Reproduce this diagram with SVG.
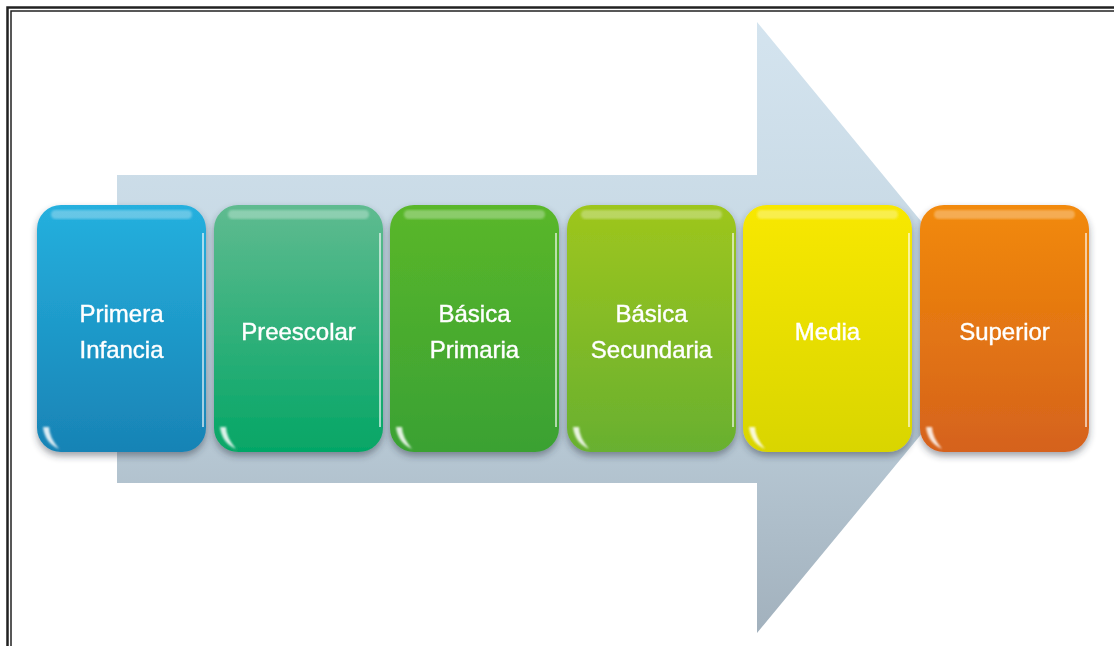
<svg xmlns="http://www.w3.org/2000/svg" width="1114" height="646" viewBox="0 0 1114 646">
<defs>
<style>
.lbl{font-family:"Liberation Sans",Arial,sans-serif;font-size:24px;fill:#ffffff;stroke:#ffffff;stroke-width:0.4;text-anchor:middle}
.hl{fill:#ffffff;opacity:0.3}
.edge{fill:none;stroke:#ffffff;stroke-opacity:0.6;stroke-width:2}
.glare{fill:#ffffff;opacity:0.85}
</style>
<linearGradient id="arrowG" x1="0" y1="0" x2="0" y2="1">
<stop offset="0" stop-color="#d4e4ef"/>
<stop offset="0.5" stop-color="#c3d5e1"/>
<stop offset="1" stop-color="#a2b1bd"/>
</linearGradient>
<linearGradient id="g1" x1="0" y1="0" x2="0" y2="1"><stop offset="0" stop-color="#25b0de"/><stop offset="1" stop-color="#1883b5"/></linearGradient>
<linearGradient id="g2" x1="0" y1="0" x2="0" y2="1"><stop offset="0" stop-color="#5fbb90"/><stop offset="1" stop-color="#05a666"/></linearGradient>
<linearGradient id="g3" x1="0" y1="0" x2="0" y2="1"><stop offset="0" stop-color="#5ab72a"/><stop offset="1" stop-color="#3aa133"/></linearGradient>
<linearGradient id="g4" x1="0" y1="0" x2="0" y2="1"><stop offset="0" stop-color="#9ec61d"/><stop offset="1" stop-color="#68b030"/></linearGradient>
<linearGradient id="g5" x1="0" y1="0" x2="0" y2="1"><stop offset="0" stop-color="#f8e800"/><stop offset="1" stop-color="#d9d500"/></linearGradient>
<linearGradient id="g6" x1="0" y1="0" x2="0" y2="1"><stop offset="0" stop-color="#f28a08"/><stop offset="1" stop-color="#d5621d"/></linearGradient>
<filter id="sh" x="-10%" y="-10%" width="120%" height="125%">
<feDropShadow dx="0" dy="4" stdDeviation="3.5" flood-color="#2a3540" flood-opacity="0.45"/>
</filter>
<filter id="blur"><feGaussianBlur stdDeviation="1.2"/></filter>
<symbol id="gloss" viewBox="0 0 169 247" overflow="visible">
<rect x="14" y="5" width="141" height="9" rx="4.5" class="hl" filter="url(#blur)"/>
<path d="M166,28 L166,222" class="edge"/>
<path d="M6,222 Q8,238 22,244 Q12,232 12,222 Z" class="glare" filter="url(#blur)"/>
</symbol>
</defs>
<rect width="1114" height="646" fill="#ffffff"/>
<g id="frame" fill="none" stroke="#222222">
<path d="M7.5,646 L7.5,7.5 L1114,7.5" stroke-width="2.5"/>
<path d="M11,646 L11,11 L1114,11" stroke-width="1.5"/>
</g>
<g id="connectors">
<polygon id="arrow" points="117,175 757,175 757,22 1009,328 757,633 757,483 117,483" fill="url(#arrowG)"/>
<path d="M117,178 L757,178" stroke="#ffffff" stroke-opacity="0.7" stroke-width="3" filter="url(#blur)"/>
</g>
<g id="n1" filter="url(#sh)">
<rect x="37" y="205" width="169" height="247" rx="24" fill="url(#g1)"/>
<use href="#gloss" x="37" y="205" width="169" height="247"/>
<text class="lbl" x="121.5" y="322">Primera</text>
<text class="lbl" x="121.5" y="358">Infancia</text>
</g>
<g id="n2" filter="url(#sh)">
<rect x="214" y="205" width="169" height="247" rx="24" fill="url(#g2)"/>
<use href="#gloss" x="214" y="205" width="169" height="247"/>
<text class="lbl" x="298.5" y="340">Preescolar</text>
</g>
<g id="n3" filter="url(#sh)">
<rect x="390" y="205" width="169" height="247" rx="24" fill="url(#g3)"/>
<use href="#gloss" x="390" y="205" width="169" height="247"/>
<text class="lbl" x="474.5" y="322">Básica</text>
<text class="lbl" x="474.5" y="358">Primaria</text>
</g>
<g id="n4" filter="url(#sh)">
<rect x="567" y="205" width="169" height="247" rx="24" fill="url(#g4)"/>
<use href="#gloss" x="567" y="205" width="169" height="247"/>
<text class="lbl" x="651.5" y="322">Básica</text>
<text class="lbl" x="651.5" y="358">Secundaria</text>
</g>
<g id="n5" filter="url(#sh)">
<rect x="743" y="205" width="169" height="247" rx="24" fill="url(#g5)"/>
<use href="#gloss" x="743" y="205" width="169" height="247"/>
<text class="lbl" x="827.5" y="340">Media</text>
</g>
<g id="n6" filter="url(#sh)">
<rect x="920" y="205" width="169" height="247" rx="24" fill="url(#g6)"/>
<use href="#gloss" x="920" y="205" width="169" height="247"/>
<text class="lbl" x="1004.5" y="340">Superior</text>
</g>
</svg>
